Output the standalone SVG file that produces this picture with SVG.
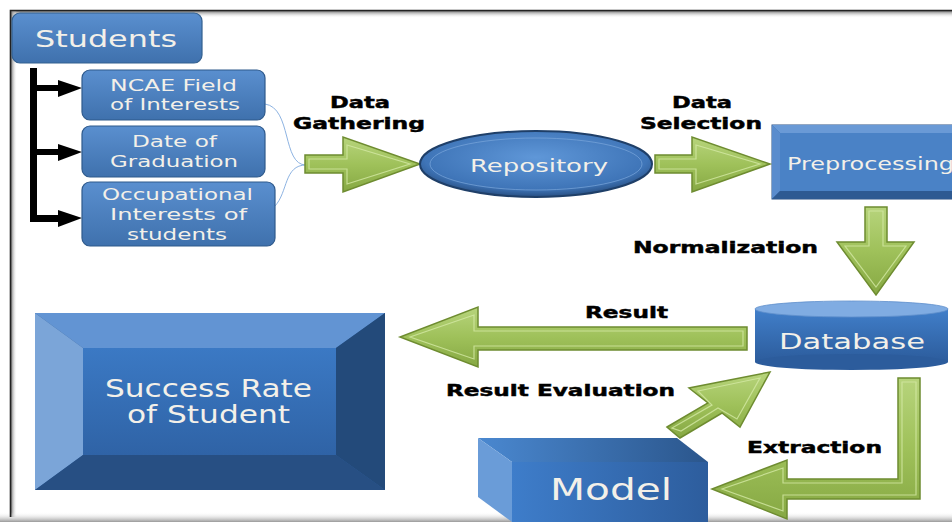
<svg xmlns="http://www.w3.org/2000/svg" width="952" height="522" viewBox="0 0 952 522">
<defs>
<linearGradient id="gBox" x1="0" y1="0" x2="0" y2="1"><stop offset="0" stop-color="#5a8fcf"/><stop offset="1" stop-color="#3f71ad"/></linearGradient>
<linearGradient id="gGreen" x1="0" y1="0" x2="0" y2="1"><stop offset="0" stop-color="#b7d47c"/><stop offset="0.5" stop-color="#9fc15a"/><stop offset="1" stop-color="#86a843"/></linearGradient>
<radialGradient id="gEll" cx="0.5" cy="0.4" r="0.6"><stop offset="0" stop-color="#5f97d8"/><stop offset="0.8" stop-color="#3f75b8"/><stop offset="1" stop-color="#284f82"/></radialGradient>
<linearGradient id="gDb" x1="0" y1="0" x2="0" y2="1"><stop offset="0" stop-color="#417fca"/><stop offset="1" stop-color="#2c5c9c"/></linearGradient>
<linearGradient id="gCenter" x1="0" y1="0" x2="0" y2="1"><stop offset="0" stop-color="#3b79c4"/><stop offset="1" stop-color="#2f63a6"/></linearGradient>
<linearGradient id="gModelFront" x1="0" y1="0" x2="1" y2="0"><stop offset="0" stop-color="#3e7dca"/><stop offset="1" stop-color="#2d5d9d"/></linearGradient>
<linearGradient id="gModelTop" x1="0" y1="0" x2="1" y2="0"><stop offset="0" stop-color="#4a88d0"/><stop offset="1" stop-color="#2b568c"/></linearGradient>
<linearGradient id="gShadeTop" x1="0" y1="0" x2="0" y2="1"><stop offset="0" stop-color="#777"/><stop offset="1" stop-color="#fff" stop-opacity="0"/></linearGradient>
<linearGradient id="gShadeLeft" x1="0" y1="0" x2="1" y2="0"><stop offset="0" stop-color="#777"/><stop offset="1" stop-color="#fff" stop-opacity="0"/></linearGradient>
<linearGradient id="gShadeBot" x1="0" y1="0" x2="0" y2="1"><stop offset="0" stop-color="#fff" stop-opacity="0"/><stop offset="1" stop-color="#999"/></linearGradient>
</defs>
<style>
.node-text{font-family:"DejaVu Sans",Verdana,sans-serif;fill:#f3f0e9}
.lbl{font-family:"DejaVu Sans","Liberation Sans",sans-serif;font-weight:bold;font-size:15.5px;fill:#000;stroke:#000;stroke-width:0.45}
.arrow{fill:url(#gGreen);stroke:#6e8c30;stroke-width:1.5;stroke-linejoin:miter}
.arrow-in{fill:none;stroke:#d3e8a4;stroke-width:1.2;opacity:0.8}
.subbox{fill:url(#gBox);stroke:#2f5a8c;stroke-width:1.2}
.bracket{fill:#000}
.thin{fill:none;stroke:#8db3e2;stroke-width:1}
</style>

<g id="frame">
<rect x="11" y="11" width="941" height="7" fill="url(#gShadeTop)"/>
<rect x="11" y="11" width="6" height="506" fill="url(#gShadeLeft)"/>
<rect x="0" y="512" width="952" height="10" fill="url(#gShadeBot)"/>
<path d="M10.5 517 V10.5 H952" fill="none" stroke="#222" stroke-width="1.6"/>
</g>

<g id="connectors">
<rect class="bracket" x="30" y="68" width="7" height="154"/>
<rect class="bracket" x="33" y="85" width="27" height="6"/>
<polygon class="bracket" points="58,80 82,88 58,97"/>
<rect class="bracket" x="33" y="149" width="27" height="6"/>
<polygon class="bracket" points="58,144 82,152 58,161"/>
<rect class="bracket" x="33" y="215" width="27" height="7"/>
<polygon class="bracket" points="58,210 82,218 58,227"/>
<path class="thin" d="M265,104 C292,108 282,165 306,165"/>
<path class="thin" d="M275,206 C288,192 284,165 306,165"/>

<polygon class="arrow" points="305,155 343,155 343,137 420,164 343,192 343,173 305,173"/>
<polygon class="arrow-in" points="309,159 347,159 347,145 410,164 347,184 347,169 309,169"/>
<polygon class="arrow" points="655,155 692,155 692,137 770,164 692,192 692,173 655,173"/>
<polygon class="arrow-in" points="659,159 696,159 696,145 760,164 696,184 696,169 659,169"/>
<polygon class="arrow" points="865,207 887,207 887,242 914,242 876,295 837,242 865,242"/>
<polygon class="arrow-in" points="869,211 883,211 883,246 906,246 876,287 845,246 869,246"/>
<polygon class="arrow" points="747,327 478,327 478,307 400,337 478,367 478,350 747,350"/>
<polygon class="arrow-in" points="743,331 474,331 474,315 410,337 474,359 474,346 743,346"/>
<polygon class="arrow" points="667,427 708,403 689,388 770,372 740,427 722,413 680,438"/>
<polygon class="arrow-in" points="672,428 712,405 698,391 760,378 737,419 718,408 681,431"/>
<polygon class="arrow" points="898,378 920,378 920,499 787,499 787,519 712,489 787,460 787,479 898,479"/>
<polygon class="arrow-in" points="902,382 916,382 916,495 783,495 783,511 722,489 783,468 783,483 902,483"/>
</g>

<g id="students">
<rect x="12" y="13" width="190" height="50" rx="8" fill="url(#gBox)" stroke="#33608f" stroke-width="1.2"/>
<text class="node-text" x="35" y="47" font-size="23" textLength="142" lengthAdjust="spacingAndGlyphs">Students</text>
</g>

<g id="ncae">
<rect class="subbox" x="82" y="70" width="183" height="50" rx="8"/>
<text class="node-text" x="110" y="91" font-size="16" textLength="127" lengthAdjust="spacingAndGlyphs">NCAE Field</text>
<text class="node-text" x="110" y="110" font-size="16" textLength="130" lengthAdjust="spacingAndGlyphs">of Interests</text>
</g>

<g id="date">
<rect class="subbox" x="82" y="126" width="183" height="51" rx="8"/>
<text class="node-text" x="132" y="147" font-size="16" textLength="85" lengthAdjust="spacingAndGlyphs">Date of</text>
<text class="node-text" x="110" y="167" font-size="16" textLength="128" lengthAdjust="spacingAndGlyphs">Graduation</text>
</g>

<g id="occupational">
<rect class="subbox" x="82" y="182" width="193" height="64" rx="8"/>
<text class="node-text" x="102" y="200" font-size="16" textLength="151" lengthAdjust="spacingAndGlyphs">Occupational</text>
<text class="node-text" x="110" y="220" font-size="16" textLength="137" lengthAdjust="spacingAndGlyphs">Interests of</text>
<text class="node-text" x="127" y="240" font-size="16" textLength="100" lengthAdjust="spacingAndGlyphs">students</text>
</g>

<g id="repository">
<ellipse cx="536" cy="164" rx="116" ry="33" fill="url(#gEll)" stroke="#1f3f68" stroke-width="2"/>
<ellipse cx="536" cy="164" rx="106" ry="26" fill="none" stroke="#7aa6dc" stroke-width="1" opacity="0.7"/>
<text class="node-text" x="470" y="172" font-size="18" textLength="138" lengthAdjust="spacingAndGlyphs">Repository</text>
</g>

<g id="preprocessing">
<rect x="772" y="125" width="190" height="74" fill="#3a6aa8" stroke="#2a5184" stroke-width="1"/>
<polygon points="772,125 962,125 962,133 780,133" fill="#6a9ad6"/>
<polygon points="772,125 780,133 780,191 772,199" fill="#5a8ccd"/>
<polygon points="772,199 780,191 962,191 962,199" fill="#2e5a92"/>
<rect x="780" y="133" width="182" height="58" fill="#4a82c6"/>
<text class="node-text" x="787" y="170" font-size="18" textLength="167" lengthAdjust="spacingAndGlyphs">Preprocessing</text>
</g>

<g id="database">
<rect x="755" y="309" width="193" height="53" fill="url(#gDb)"/>
<ellipse cx="851.5" cy="362" rx="96.5" ry="8" fill="#2c5c9c"/>
<ellipse cx="851.5" cy="309" rx="96.5" ry="8" fill="#80ace2" stroke="#5f8fcc" stroke-width="0.8"/>
<text class="node-text" x="779" y="349" font-size="22" textLength="146" lengthAdjust="spacingAndGlyphs">Database</text>
</g>

<g id="success-rate">
<rect x="35" y="313" width="350" height="177" fill="#2f5f9c"/>
<polygon points="35,313 385,313 336,348 83,348" fill="#6294d3"/>
<polygon points="35,313 83,348 83,455 35,490" fill="#7ba5d8"/>
<polygon points="385,313 385,490 336,455 336,348" fill="#234a7a"/>
<polygon points="35,490 83,455 336,455 385,490" fill="#274f83"/>
<rect x="83" y="348" width="253" height="107" fill="url(#gCenter)"/>
<text class="node-text" x="105" y="397" font-size="24" textLength="207" lengthAdjust="spacingAndGlyphs">Success Rate</text>
<text class="node-text" x="127" y="423" font-size="24" textLength="163" lengthAdjust="spacingAndGlyphs">of Student</text>
</g>

<g id="model">
<polygon points="478,438 677,438 708,462 512,462" fill="url(#gModelTop)"/>
<polygon points="478,438 512,462 512,522 478,497" fill="#6a9cd8"/>
<rect x="512" y="462" width="196" height="60" fill="url(#gModelFront)"/>
<text class="node-text" x="550" y="500" font-size="31" textLength="122" lengthAdjust="spacingAndGlyphs">Model</text>
</g>

<g id="labels">
<text class="lbl" x="330" y="108" textLength="60" lengthAdjust="spacingAndGlyphs">Data</text>
<text class="lbl" x="293" y="129" textLength="132" lengthAdjust="spacingAndGlyphs">Gathering</text>
<text class="lbl" x="672" y="108" textLength="60" lengthAdjust="spacingAndGlyphs">Data</text>
<text class="lbl" x="640" y="129" textLength="122" lengthAdjust="spacingAndGlyphs">Selection</text>
<text class="lbl" x="633" y="253" textLength="185" lengthAdjust="spacingAndGlyphs">Normalization</text>
<text class="lbl" x="585" y="318" textLength="83" lengthAdjust="spacingAndGlyphs">Result</text>
<text class="lbl" x="446" y="396" textLength="229" lengthAdjust="spacingAndGlyphs">Result Evaluation</text>
<text class="lbl" x="747" y="453" textLength="135" lengthAdjust="spacingAndGlyphs">Extraction</text>
</g>
</svg>
